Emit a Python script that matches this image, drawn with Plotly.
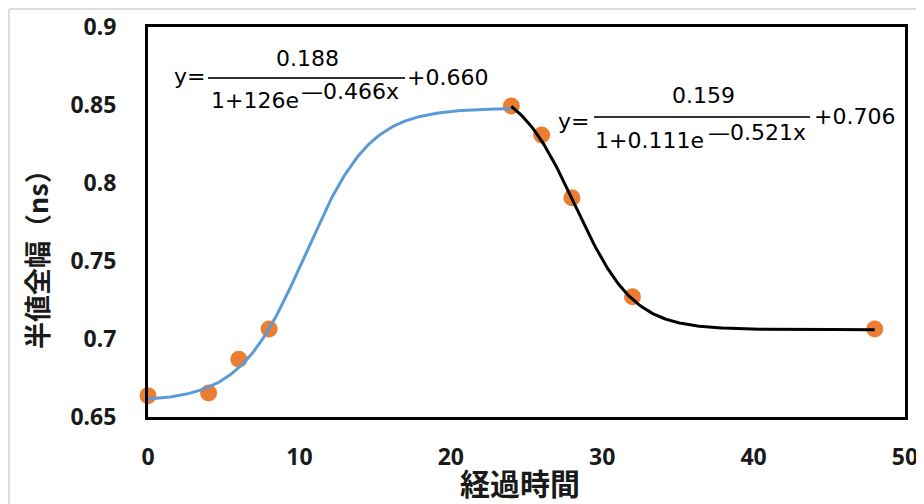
import numpy as np
import plotly.graph_objects as go

# Measured data (経過時間, 半値全幅 ns)
time_h = [0, 4, 6, 8, 24, 26, 28, 32, 48]
fwhm_ns = [0.6637, 0.6654, 0.6870, 0.7064, 0.8494, 0.8308, 0.7905, 0.7271, 0.7064]

# Fitted logistic curve parameters (as shown on the chart)
rise_params = {"a": 0.188, "b": 126, "k": 0.466, "c": 0.660, "x0": 0, "x1": 24}
fall_params = {"a": 0.159, "b": 0.111, "k": 0.521, "c": 0.706, "x0": 24, "x1": 48}

x_ticks = [0, 10, 20, 30, 40, 50]
y_ticks = [0.65, 0.7, 0.75, 0.8, 0.85, 0.9]
y_ticktext = ["0.65", "0.7", "0.75", "0.8", "0.85", "0.9"]

x_title = "経過時間"
y_title = "半値全幅（ns）"

# curves
xr = np.linspace(rise_params["x0"], rise_params["x1"], 200)
yr = rise_params["a"] / (1 + rise_params["b"] * np.exp(-rise_params["k"] * xr)) + rise_params["c"]
xf = np.linspace(fall_params["x0"], fall_params["x1"], 200)
yf = fall_params["a"] / (1 + fall_params["b"] * np.exp(fall_params["k"] * (xf - fall_params["x0"]))) + fall_params["c"]

# page offsets (browser body margin of 8px)
OFF = 8
W, H = 924 - OFF, 504 - OFF
L, R, T, B = 148 - OFF, 905 - OFF, 27 - OFF, 417 - OFF

fig = go.Figure()
fig.add_trace(go.Scatter(x=time_h, y=fwhm_ns, mode="markers",
                         marker=dict(color="#ED7D31", size=17, line=dict(width=0)),
                         showlegend=False, cliponaxis=False))
fig.add_trace(go.Scatter(x=xr, y=yr, mode="lines", line=dict(color="#5B9BD5", width=3),
                         showlegend=False))
fig.add_trace(go.Scatter(x=xf, y=yf, mode="lines", line=dict(color="#000000", width=3),
                         showlegend=False))

# convert page pixel positions (reference coordinates) to paper fractions
def px(x):
    return (x - OFF - L) / (R - L)

def py(y):
    return (B - (y - OFF)) / (B - T)

EQF = dict(family="DejaVu Sans, Arial, sans-serif", size=22, color="#000000")
annos = []
def txt(x, y, s, xanchor="left", size=None):
    f = dict(EQF)
    if size:
        f["size"] = size
    annos.append(dict(x=px(x), y=py(y), xref="paper", yref="paper", text=s, showarrow=False,
                      xanchor=xanchor, yanchor="middle", font=f))

shapes = []
def hline(x0, x1, y):
    shapes.append(dict(type="line", xref="paper", yref="paper", x0=px(x0), x1=px(x1),
                       y0=py(y), y1=py(y), line=dict(color="#333", width=2)))

# left equation
txt(172, 76, "y=")
hline(208, 405, 78)
txt(307, 58, "0.188", "center")
txt(209, 100, "1+126e")
txt(299, 92, "—0.466x")
txt(405, 77, "+0.660")

# right equation
txt(556, 121, "y=")
hline(594, 810, 117)
txt(703, 95, "0.159", "center")
txt(593, 140, "1+0.111e")
txt(706, 132, "—0.521x")
txt(812, 117, "+0.706")

# x axis title
annos.append(dict(x=px(520), y=py(482), xref="paper", yref="paper", text=x_title, showarrow=False,
                  xanchor="center", yanchor="middle",
                  font=dict(family="Noto Sans CJK JP", size=30, color="#1a1a1a", weight="bold")))
# y axis title
annos.append(dict(x=px(37), y=py(253), xref="paper", yref="paper", text=y_title, showarrow=False,
                  xanchor="center", yanchor="middle", textangle=-90,
                  font=dict(family="Noto Sans CJK JP", size=27, color="#1a1a1a", weight="bold")))

# light image border (left and top)
shapes.append(dict(type="line", xref="paper", yref="paper", x0=px(9), x1=px(9), y0=py(9), y1=py(504),
                   line=dict(color="#dddddd", width=2)))
shapes.append(dict(type="line", xref="paper", yref="paper", x0=px(9), x1=px(924), y0=py(9), y1=py(9),
                   line=dict(color="#dddddd", width=2)))

fig.update_layout(
    width=W, height=H,
    margin=dict(l=L, r=W - R, t=T, b=H - B, autoexpand=False),
    paper_bgcolor="white", plot_bgcolor="white",
    annotations=annos, shapes=shapes,
    xaxis=dict(range=[0, 50], tickvals=x_ticks, showgrid=False, zeroline=False, automargin=False,
               showline=True, mirror=True, linecolor="black", linewidth=3,
               ticks="", ticklabelstandoff=17,
               tickfont=dict(family="Noto Sans, sans-serif", size=23, color="#1a1a1a", weight="bold")),
    yaxis=dict(range=[0.65, 0.9], tickvals=y_ticks, ticktext=y_ticktext, showgrid=False, zeroline=False,
               automargin=False,
               showline=True, mirror=True, linecolor="black", linewidth=3,
               ticks="", ticklabelstandoff=24,
               tickfont=dict(family="Noto Sans, sans-serif", size=23, color="#1a1a1a", weight="bold")),
)

fig.write_html("out.html")
